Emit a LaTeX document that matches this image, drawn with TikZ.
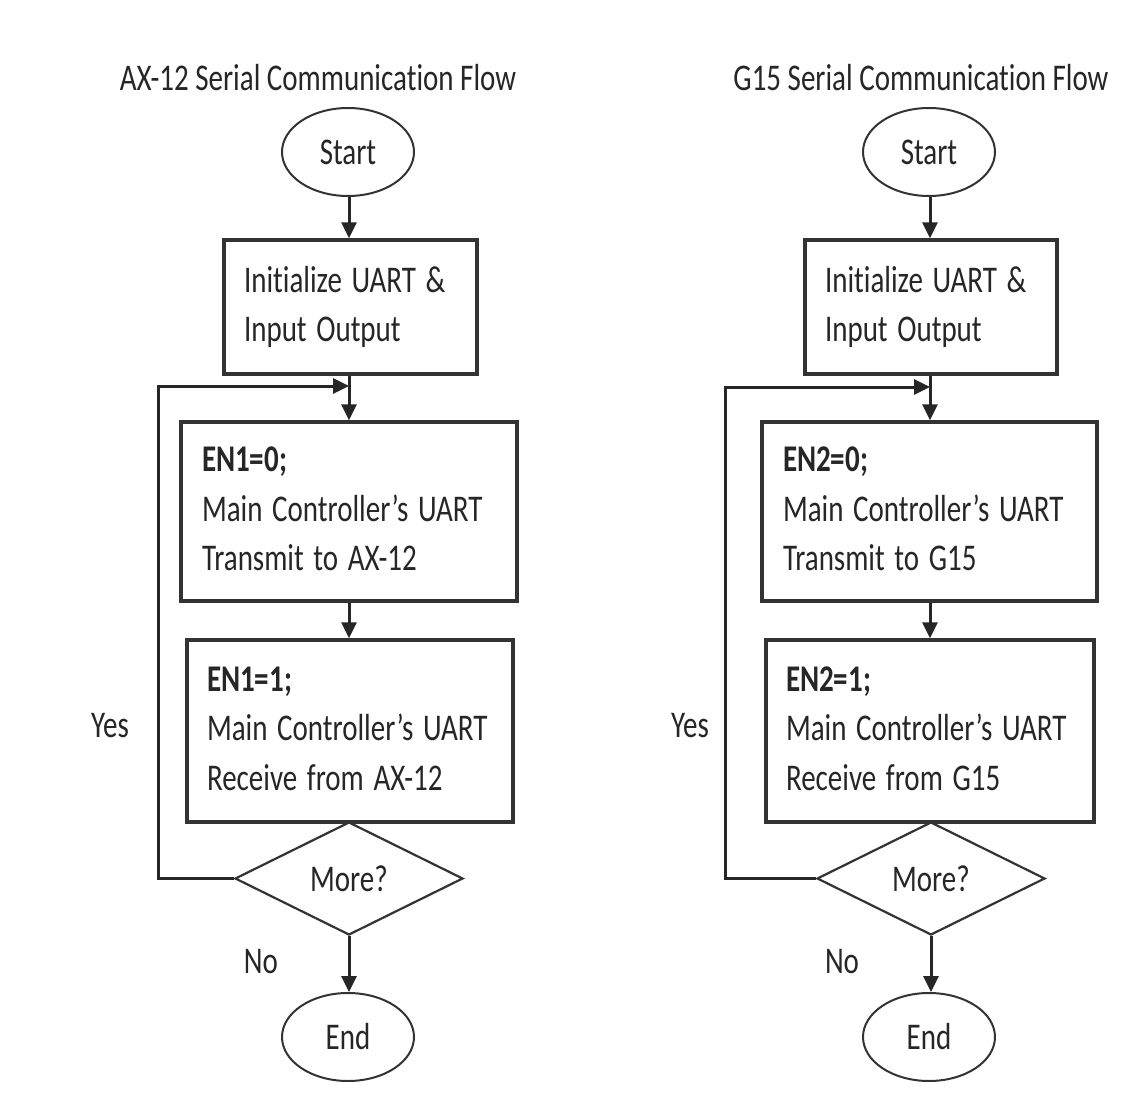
\documentclass[tikz,border=0pt]{standalone}
\usepackage{fontspec}
\setmainfont{Carlito}[Ligatures={NoCommon}]
\usepackage{graphicx}
\usetikzlibrary{shapes.geometric,arrows.meta}
\newcommand\vstr[1]{\scalebox{1}[1.3]{#1}}
\begin{document}
\begin{tikzpicture}[x=1pt,y=-1pt,
 txt/.style={font=\fontsize{29}{38}\selectfont, text=black!85},
 term/.style={ellipse, draw=black!80, line width=2pt, minimum width=132pt, minimum height=88pt, inner sep=0pt, txt},
 proc/.style={rectangle, draw=black!80, line width=3.5pt, inner xsep=20pt, inner ysep=0pt, align=left, txt},
 dec/.style={diamond, draw=black!80, line width=2.2pt, minimum width=228pt, minimum height=113pt, inner sep=0pt, shape aspect=2, txt},
 arr/.style={draw=black!85, line width=3pt, -{Triangle[length=16pt,width=15pt]}}
]
\useasboundingbox[fill=white] (0,0) rectangle (1136,1113);

% ---------- left flow ----------
\node[txt] (t1) at (318,78) {\vstr{AX-12 Serial Communication Flow}};
\node[term] (s1) at (348,152) {\vstr{Start}};
\node[proc, minimum width=253pt, text width=213pt, minimum height=134pt] (i1) at (350.5,307)
  {\vstr{\begin{tabular}{@{}l@{}}Initialize UART \&\\Input Output\end{tabular}}};
\node[proc, minimum width=336pt, text width=294pt, inner xsep=21pt, minimum height=179pt] (a1) at (349,511.5)
  {\vstr{\begin{tabular}{@{}l@{}}\textbf{EN1=0;}\\Main Controller's UART\\Transmit to AX-12\end{tabular}}};
\node[proc, minimum width=326pt, text width=286pt, minimum height=182pt] (b1) at (350,731)
  {\vstr{\begin{tabular}{@{}l@{}}\textbf{EN1=1;}\\Main Controller's UART\\Receive from AX-12\end{tabular}}};
\node[dec] (d1) at (349,878.5) {\vstr{More?}};
\node[term] (e1) at (348,1037) {\vstr{End}};
\node[txt] (y1) at (110,726) {\vstr{Yes}};
\node[txt] (n1) at (261,962) {\vstr{No}};
\coordinate (j1) at (349,386);
\coordinate (c1) at (158,878.5);

\draw[arr] (s1.south -| j1) -- (i1.north -| j1);
\draw[arr] (i1.south -| j1) -- (a1.north -| j1);
\draw[arr] (a1.south -| j1) -- (b1.north -| j1);
\draw[arr] (d1.south) -- (e1.north -| d1.south);
\draw[arr] (d1.west) -- (c1) |- (j1);

% ---------- right flow ----------
\node[txt] (t2) at (921,78) {\vstr{G15 Serial Communication Flow}};
\node[term] (s2) at (929,152) {\vstr{Start}};
\node[proc, minimum width=252pt, text width=212pt, minimum height=134pt] (i2) at (931,307)
  {\vstr{\begin{tabular}{@{}l@{}}Initialize UART \&\\Input Output\end{tabular}}};
\node[proc, minimum width=335pt, text width=293pt, inner xsep=21pt, minimum height=179pt] (a2) at (929.5,511.5)
  {\vstr{\begin{tabular}{@{}l@{}}\textbf{EN2=0;}\\Main Controller's UART\\Transmit to G15\end{tabular}}};
\node[proc, minimum width=328pt, text width=288pt, minimum height=182pt] (b2) at (930,731)
  {\vstr{\begin{tabular}{@{}l@{}}\textbf{EN2=1;}\\Main Controller's UART\\Receive from G15\end{tabular}}};
\node[dec] (d2) at (931,878.5) {\vstr{More?}};
\node[term] (e2) at (929,1037) {\vstr{End}};
\node[txt] (y2) at (690,726) {\vstr{Yes}};
\node[txt] (n2) at (842,962) {\vstr{No}};
\coordinate (j2) at (930,387);
\coordinate (c2) at (725,878.5);

\draw[arr] (s2.south -| j2) -- (i2.north -| j2);
\draw[arr] (i2.south -| j2) -- (a2.north -| j2);
\draw[arr] (a2.south -| j2) -- (b2.north -| j2);
\draw[arr] (d2.south) -- (e2.north -| d2.south);
\draw[arr] (d2.west) -- (c2) |- (j2);
\end{tikzpicture}
\end{document}
